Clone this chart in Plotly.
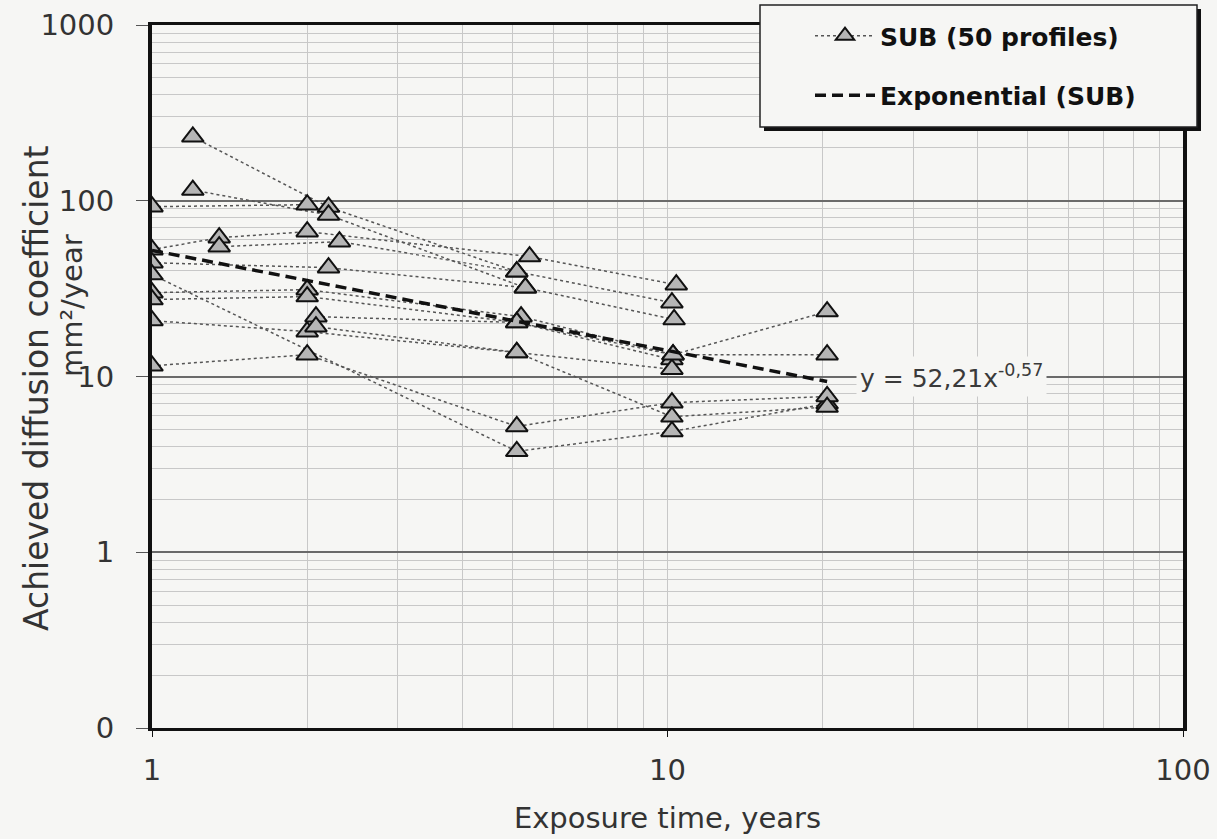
import plotly.graph_objects as go

# Measured profiles: exposure time (years) and achieved diffusion coefficient (mm²/year)
profile_a_t = [1.2, 2.2, 5.1, 10.2]
profile_a_d = [231, 92, 39.5, 26.3]
profile_b_t = [1.2, 2.2, 5.3, 10.3]
profile_b_d = [115, 83, 32.0, 21.1]
profile_c_t = [1.0, 2.0]
profile_c_d = [92.5, 95]
profile_d_t = [1.0, 1.35, 2.0, 5.4, 10.4]
profile_d_d = [52.7, 61.6, 66.7, 48.1, 33.3]
profile_e_t = [1.35, 2.31, 5.1]
profile_e_d = [54.8, 58.5, 39.5]
profile_f_t = [1.0, 2.2, 5.3]
profile_f_d = [44.4, 41.6, 32.0]
profile_g_t = [1.0, 2.0, 5.2, 10.25, 20.4]
profile_g_d = [30, 31.2, 21.9, 13.3, 23.4]
profile_h_t = [1.0, 2.0, 5.1, 10.2]
profile_h_d = [27.4, 28.5, 20.3, 12.5]
profile_i_t = [1.0, 5.1, 10.2, 20.4]
profile_i_d = [38, 3.75, 4.87, 7.0]
profile_j_t = [1.0, 2.0, 5.1, 10.2, 20.4]
profile_j_d = [11.5, 13.3, 5.2, 7.1, 7.7]
profile_k_t = [1.0, 2.0, 5.1, 10.2]
profile_k_d = [20.8, 18.0, 13.7, 11.0]
profile_l_t = [2.08, 5.1, 10.25, 20.4]
profile_l_d = [21.9, 20.3, 13.3, 13.3]
profile_m_t = [2.08, 5.1, 10.2, 20.4]
profile_m_d = [19.2, 13.7, 5.9, 6.7]

profiles = [
    (profile_a_t, profile_a_d), (profile_b_t, profile_b_d), (profile_c_t, profile_c_d),
    (profile_d_t, profile_d_d), (profile_e_t, profile_e_d), (profile_f_t, profile_f_d),
    (profile_g_t, profile_g_d), (profile_h_t, profile_h_d), (profile_i_t, profile_i_d),
    (profile_j_t, profile_j_d), (profile_k_t, profile_k_d), (profile_l_t, profile_l_d),
    (profile_m_t, profile_m_d),
]

# Power-law fit y = 52,21 x^-0,57
fit_coef = 52.21
fit_exp = -0.57
fit_t = [1.0, 1.5, 2.0, 3.0, 5.0, 7.0, 10.0, 14.0, 20.4]

y_tickvals = [0.1, 1, 10, 100, 1000]
y_ticktext = ["0", "1", "10", "100", "1000"]
x_tickvals = [1, 10, 100]
x_ticktext = ["1", "10", "100"]

# Minor gridlines at 2..9 within each decade
x_minor = [m * 10 ** e for e in range(0, 2) for m in range(2, 10)]
y_minor = [m * 10.0 ** e for e in range(-1, 3) for m in range(2, 10)]

BG = "#f6f6f4"
FONT = "DejaVu Sans"

# Plot-area pixel box, used to place paper-referenced items
L, R, T, B = 152, 1183, 25, 728
PW, PH = R - L, B - T


def px_x(p):
    return (p - L) / PW


def px_y(p):
    return (B - p) / PH


# One trace, profiles separated by gaps
sub_t, sub_d = [], []
for t, d in profiles:
    sub_t += list(t) + [None]
    sub_d += list(d) + [None]

fig = go.Figure()
fig.add_trace(go.Scatter(
    x=sub_t, y=sub_d, mode="lines+markers", connectgaps=False,
    name="<b>SUB (50 profiles)</b>",
    line=dict(color="#555555", width=1.5, dash="dot"),
    marker=dict(symbol="triangle-up", size=19, color="#b5b5b5",
                line=dict(color="#111111", width=2)),
    legendgroup="a",
))
fig.add_trace(go.Scatter(
    x=fit_t, y=[fit_coef * t ** fit_exp for t in fit_t], mode="lines",
    name="<b>Exponential (SUB)</b>",
    line=dict(color="#111111", width=3.5, dash="11px,6px"),
    legendgroup="b",
))

# Legend frame with drop shadow
fig.add_shape(type="rect", xref="paper", yref="paper",
              x0=px_x(764), x1=px_x(1201), y0=px_y(131), y1=px_y(9),
              fillcolor="#111111", line=dict(width=0), layer="above")
fig.add_shape(type="rect", xref="paper", yref="paper",
              x0=px_x(760), x1=px_x(1197), y0=px_y(127), y1=px_y(5),
              fillcolor=BG, line=dict(color="#222222", width=1.5), layer="above")

# Fit equation label
fig.add_annotation(
    x=1.365, y=1.0, xref="x", yref="y", xanchor="left", yanchor="middle",
    text="y = 52,21x<sup>-0,57</sup>", showarrow=False,
    font=dict(family=FONT, size=25, color="#3a3a3a"),
    bgcolor=BG, borderpad=3,
)

# Vertical axis title, two lines
fig.add_annotation(
    x=px_x(36), y=px_y(388), xref="paper", yref="paper",
    xanchor="center", yanchor="middle", textangle=-90, showarrow=False,
    text="Achieved diffusion coefficient",
    font=dict(family=FONT, size=33, color="#333333"),
)
fig.add_annotation(
    x=px_x(72), y=px_y(306), xref="paper", yref="paper",
    xanchor="center", yanchor="middle", textangle=-90, showarrow=False,
    text="mm²/year",
    font=dict(family=FONT, size=29, color="#333333"),
)

fig.update_layout(
    width=1217, height=839,
    margin=dict(l=L, r=1217 - R, t=T, b=839 - B),
    paper_bgcolor=BG, plot_bgcolor=BG,
    font=dict(family=FONT, color="#222222"),
    showlegend=True,
    legend=dict(
        x=px_x(810), y=px_y(13), xanchor="left", yanchor="top",
        bgcolor="rgba(0,0,0,0)", borderwidth=0,
        font=dict(family=FONT, size=25, color="#111111"),
        tracegroupgap=24, itemwidth=60,
    ),
    xaxis=dict(
        type="log", range=[0, 2], automargin=False,
        tickvals=x_tickvals, ticktext=x_ticktext,
        tickfont=dict(size=29, color="#333333"),
        ticks="outside", ticklen=6, tickcolor="#111111",
        ticklabelstandoff=8,
        showgrid=True, gridcolor="#c8c8c8", gridwidth=1,
        minor=dict(tickvals=x_minor, showgrid=True, gridcolor="#c8c8c8", gridwidth=1, ticks=""),
        showline=True, linecolor="#111111", linewidth=3, mirror=True,
        zeroline=False,
        title=dict(text="Exposure time, years", font=dict(size=29, color="#333333"), standoff=22),
    ),
    yaxis=dict(
        type="log", range=[-1, 3], automargin=False,
        tickvals=y_tickvals, ticktext=y_ticktext,
        tickfont=dict(size=29, color="#333333"),
        ticks="outside", ticklen=12, tickcolor="#555555",
        ticklabelstandoff=16,
        showgrid=True, gridcolor="#6a6a6a", gridwidth=1.5,
        minor=dict(tickvals=y_minor, showgrid=True, gridcolor="#c8c8c8", gridwidth=1, ticks=""),
        showline=True, linecolor="#111111", linewidth=4, mirror=True,
        zeroline=False,
    ),
)

fig.write_html("out.html")
